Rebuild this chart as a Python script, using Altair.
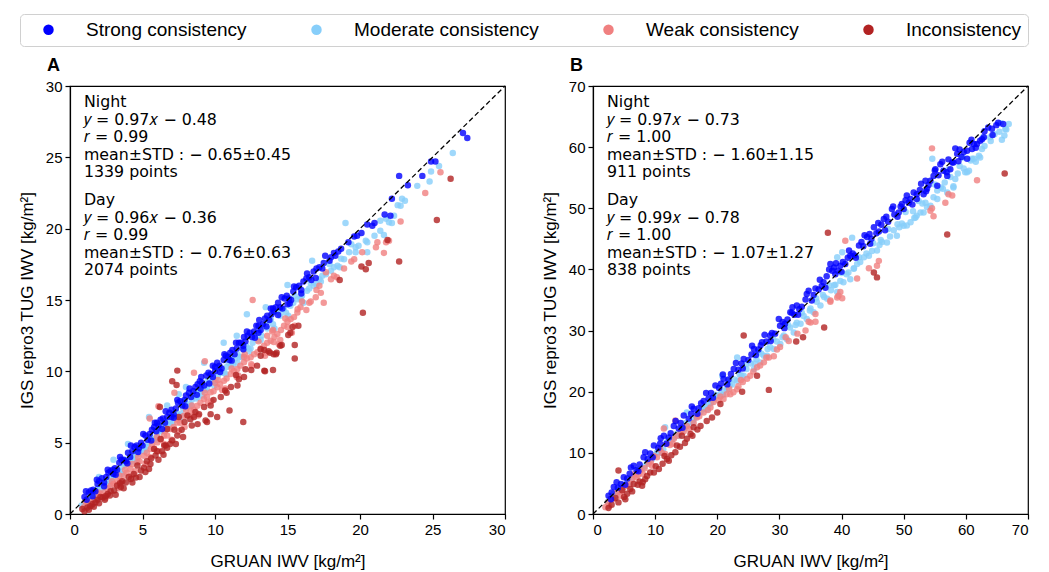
import altair as alt
import pandas as pd

# ---------------- data ----------------
A_strong = [(1.0,1.2),(1.3,1.5),(1.6,1.7),(1.9,2.1),(2.0,2.3),(2.2,2.5),(2.5,2.6),(2.8,3.0),(3.0,2.8),(3.1,3.2),(3.4,3.6),(3.7,3.8),(4.0,4.3),(4.3,4.4),(4.6,4.8),(4.9,5.0),(5.0,4.8),(5.2,5.5),(5.5,5.6),(5.8,6.1),(6.0,6.4),(6.1,6.2),(6.4,6.7),(6.7,6.8),(7.0,7.3),(7.0,6.8),(7.3,7.4),(7.6,7.9),(7.9,8.0),(8.0,8.3),(8.2,8.5),(8.5,8.6),(8.8,9.1),(9.0,8.8),(9.1,9.2),(9.4,9.7),(9.7,9.8),(10.0,10.3),(10.0,10.0),(10.3,10.4),(10.6,10.8),(10.9,11.0),(11.0,10.8),(11.2,11.5),(11.5,11.6),(11.8,12.0),(12.0,12.4),(12.1,12.1),(12.4,12.7),(12.7,12.8),(13.0,13.2),(13.0,12.7),(13.3,13.3),(13.6,13.9),(13.9,14.0),(14.0,14.4),(14.2,14.5),(14.5,14.5),(14.8,15.1),(15.0,14.7),(15.1,15.1),(15.4,15.6),(15.8,16.0),(16.1,16.3),(16.5,16.6),(16.8,17.0),(17.2,17.3),(17.6,18.1),(17.9,17.75),(18.2,18.3),(18.7,18.6),(19.2,19.05),(19.6,19.45),(19.8,19.5),(20.1,19.7),(20.5,20.3),(20.85,20.2),(21.0,20.4),(21.7,21.0),(22.1,20.9),(22.2,22.1),(22.7,23.7),(23.3,23.05),(24.3,23.7),(24.9,24.7),(25.2,24.7),(27.1,26.7),(27.4,26.35),
            (1.15,1.0),(1.45,1.65),(1.75,1.6),(2.35,2.2),(2.65,2.9),(2.95,3.1),(3.25,3.1),(3.55,3.8),(3.85,3.7),(4.15,4.0),(4.45,4.7),(4.75,4.6),(5.35,5.2),(5.65,5.9),(5.95,5.8),(6.25,6.6),(6.55,6.4),(6.85,7.1),(7.15,7.0),(7.45,7.8),(7.75,7.6),(8.35,8.2),(8.65,8.9),(8.95,9.3),(9.25,9.0),(9.55,9.9),(9.85,9.6),(10.15,10.6),(10.45,10.2),(10.75,11.1),(11.05,11.3),(11.35,11.2),(11.65,12.0),(11.95,11.8),(12.25,12.5),(12.55,12.4),(12.85,13.2),(13.15,12.9),(13.45,13.7),(13.75,13.6),(14.05,14.2),(14.35,14.8),(14.65,14.4),(14.95,15.3),(15.25,15.0),(15.6,15.9),(15.95,15.7),(16.3,16.5),(16.65,16.4),(17.0,17.2),(17.4,17.2),(18.0,18.0),(18.5,18.4),
            (1.1,1.6),(1.55,1.25),(1.85,2.4),(2.35,1.95),(2.6,3.1),(3.15,2.75),(3.45,4.0),(3.95,3.55),(4.2,4.8),(4.7,4.35),(5.05,5.6),(5.6,5.15),(5.85,6.4),(6.35,5.95),(6.6,7.2),(7.15,6.75),(7.4,8.0),(7.95,7.55),(8.25,8.8),(8.75,8.35),(9.05,9.6),(9.6,9.15),(9.85,10.4),(10.35,9.95),(10.65,11.2),(11.15,10.75),(11.45,12.0),(11.95,11.55),(12.2,12.8),(12.75,12.35),(13.05,13.6),(13.55,13.15),(13.85,14.4),(14.35,13.95),(14.6,15.2),(15.15,14.75),(15.45,15.95),(15.95,15.45),(16.35,16.85),(16.95,16.55),(17.5,17.6),(18.3,18.1)]
A_moderate = [(0.8,0.6),(1.2,0.9),(1.5,1.2),(1.8,1.6),(2.0,2.6),(2.1,1.7),(2.4,2.2),(2.7,2.3),(3.0,2.7),(3.0,3.8),(3.3,2.9),(3.6,3.3),(3.9,3.5),(4.0,4.9),(4.2,3.9),(4.5,4.0),(4.8,4.4),(5.1,4.6),(5.4,5.0),(5.45,6.8),(5.7,5.2),(6.0,5.6),(6.3,5.8),(6.6,6.2),(6.7,7.6),(6.9,6.4),(7.2,6.8),(7.5,6.9),(7.5,8.4),(7.8,7.4),(8.0,8.9),(8.1,7.5),(8.4,8.0),(8.7,8.1),(9.0,8.6),(9.25,10.6),(9.3,8.7),(9.6,9.1),(9.9,9.3),(10.2,9.7),(10.5,9.9),(10.6,12.0),(10.8,10.3),(11.1,10.4),(11.4,10.9),(11.5,12.5),(11.7,11.0),(12.0,11.5),(12.2,14.0),(12.3,11.6),(12.6,12.0),(12.9,12.2),(13.05,12.75),(13.4,13.2),(13.5,14.5),(13.85,13.65),(14.3,14.15),(14.75,14.35),(15.0,16.05),(15.2,14.6),(15.7,15.05),(16.0,15.3),(16.35,15.65),(16.7,17.75),(16.8,16.0),(17.2,16.45),(17.65,16.8),(18.0,17.05),(18.45,17.4),(18.9,17.85),(19.0,20.4),(19.25,18.35),(19.7,18.7),(19.7,18.35),(19.9,18.8),(20.4,19.15),(20.5,19.05),(20.5,18.35),(21.0,19.5),(21.4,19.85),(21.4,20.55),(21.65,19.55),(21.8,20.7),(22.0,20.45),(22.2,20.4),(22.35,20.9),(22.6,21.65),(22.8,21.6),(22.9,22.1),(23.1,21.95),(23.95,23.0),(24.8,23.3),(24.9,24.0),(25.45,24.4),(26.4,25.3),
              (1.0,0.8),(1.35,1.0),(1.65,1.3),(1.95,1.8),(2.25,1.8),(2.55,2.3),(2.85,2.5),(3.15,2.9),(3.45,3.0),(3.75,3.5),(4.05,3.5),(4.35,4.1),(4.65,4.2),(4.95,4.6),(5.25,4.7),(5.55,5.3),(5.85,5.3),(6.15,5.9),(6.45,5.9),(6.75,6.5),(7.05,6.4),(7.35,7.1),(7.65,7.0),(7.95,7.7),(8.25,7.7),(8.55,8.3),(8.85,8.2),(9.15,8.9),(9.45,8.8),(9.75,9.5),(10.05,9.4),(10.35,10.1),(10.65,9.9),(10.95,10.6),(11.25,10.5),(11.55,11.2),(11.85,11.0),(12.15,11.8),(12.45,11.6),(12.75,12.4),(13.2,12.5),(13.6,13.0),(14.0,13.3),(14.5,13.9),(14.9,14.1),(15.4,14.8),(15.9,15.1),(16.5,15.8),(17.0,16.1),(17.4,16.7),(18.2,17.3),(18.7,17.9),
              (1.1,0.5),(1.45,1.4),(1.9,1.3),(2.3,2.1),(2.75,1.9),(3.1,3.0),(3.55,2.8),(3.9,3.8),(4.4,3.7),(4.7,4.6),(5.15,4.4),(5.5,5.4),(5.95,5.2),(6.3,6.2),(6.75,6.0),(7.1,7.0),(7.55,6.7),(7.9,7.9),(8.35,7.6),(8.7,8.6),(9.1,8.3),(9.5,9.4),(9.95,9.0),(10.3,10.2),(10.75,9.8),(11.1,11.0),(11.55,10.6),(11.9,11.8),(12.35,11.4),(12.7,12.6),(13.15,12.2),(13.6,13.5),(14.1,13.0),(14.55,14.3),(15.05,13.9),(15.5,15.3),(16.1,14.8),(16.6,16.2),(17.3,16.3),(17.9,17.5),(18.6,17.3),(19.4,18.9)]
A_weak = [(0.97,0.47),(1.43,0.82),(1.88,1.17),(2.34,1.52),(2.5,1.3),(2.8,1.98),(3.26,2.33),(3.5,2.3),(3.72,2.68),(4.0,3.5),(4.18,3.15),(4.5,3.0),(4.64,3.62),(5.1,4.09),(5.5,4.0),(5.5,6.7),(5.56,4.55),(6.0,5.4),(6.02,5.02),(6.1,7.55),(6.48,5.49),(6.5,4.9),(6.94,5.96),(7.2,8.5),(7.4,6.42),(7.5,5.8),(7.86,6.89),(8.0,7.3),(8.32,7.24),(8.5,6.9),(8.55,9.9),(8.78,7.59),(9.24,8.06),(9.3,10.7),(9.5,7.8),(9.7,8.53),(10.0,9.2),(10.16,8.88),(10.5,8.7),(10.62,9.34),(11.08,9.81),(11.5,9.6),(11.54,10.16),(12.0,10.63),(12.0,11.0),(12.46,10.98),(12.5,10.5),(12.6,15.0),(12.92,11.33),(13.38,11.8),(13.5,11.3),(13.6,12.5),(13.84,12.15),(14.0,12.9),(14.05,12.05),(14.3,12.61),(14.5,12.2),(14.76,13.2),(15.0,13.1),(15.22,13.66),(15.5,13.2),(15.68,14.13),(15.7,14.35),(16.0,14.9),(16.3,14.3),(16.95,15.2),(17.0,15.7),(17.5,14.8),(17.65,16.95),(18.0,16.45),(18.2,16.7),(18.9,17.2),(19.4,17.7),(19.6,17.85),(20.15,18.35),(21.1,18.7),(21.2,19.05),(21.65,18.3),(21.8,19.05),(22.0,19.15),(22.8,20.5),(24.5,22.5),(25.55,23.95),
          (1.2,0.7),(1.65,1.0),(2.1,1.4),(2.6,1.8),(3.0,2.1),(3.4,2.7),(3.9,2.9),(4.3,3.5),(4.8,3.7),(5.3,4.3),(5.8,4.6),(6.25,5.2),(6.7,5.5),(7.15,6.1),(7.6,6.4),(8.1,6.9),(8.55,7.3),(9.0,7.8),(9.45,8.2),(9.9,8.6),(10.35,9.1),(10.8,9.5),(11.3,10.0),(11.75,10.4),(12.2,10.9),(12.7,11.2),(13.15,11.6),(13.6,12.0),(14.1,12.4),(14.55,12.9),(15.0,13.5),(15.45,13.8),(16.5,14.8),(17.3,15.5),
          (1.05,0.9),(1.5,0.6),(1.95,1.5),(2.45,1.1),(2.9,2.3),(3.35,1.8),(3.8,3.1),(4.25,2.7),(4.7,4.0),(5.2,3.5),(5.65,4.9),(6.1,4.4),(6.55,5.8),(7.0,5.2),(7.45,6.6),(7.9,6.1),(8.4,7.6),(8.85,6.9),(9.3,8.5),(9.75,7.9),(10.2,9.4),(10.7,8.8),(11.15,10.2),(11.6,9.7),(12.05,11.2),(12.55,10.4),(13.0,12.1),(13.45,11.1),(13.95,12.8),(14.4,11.9),(14.85,13.7),(15.3,12.7),(15.9,14.5),(16.6,14.9),(17.2,16.0),(18.4,16.6)]
A_incons = [(0.85,0.35),(1.2,0.45),(1.55,0.7),(1.9,1.0),(2.25,1.15),(2.6,1.4),(3.05,1.65),(3.25,2.0),(3.85,2.2),(4.2,2.45),(4.4,2.8),(4.65,3.4),(4.9,3.05),(5.1,3.25),(5.45,3.15),(5.8,4.55),(5.9,4.1),(6.2,7.5),(6.25,5.25),(6.5,4.8),(6.6,4.8),(6.7,4.65),(6.7,5.95),(7.05,5.15),(7.05,9.3),(7.3,4.9),(7.35,9.05),(7.4,5.5),(7.4,10.05),(7.5,6.8),(7.9,6.45),(8.1,6.9),(8.3,6.65),(8.55,6.8),(8.65,7.15),(8.8,6.3),(9.25,7.5),(9.35,6.55),(9.45,6.45),(9.7,7.0),(9.7,7.6),(10.15,6.8),(10.4,8.2),(10.7,8.65),(10.8,8.5),(11.0,7.25),(11.1,8.9),(11.45,9.75),(11.55,9.0),(11.65,9.45),(11.95,6.45),(12.0,9.6),(12.1,10.15),(12.9,10.4),(13.15,11.1),(13.15,11.55),(13.4,10.05),(13.4,11.5),(13.45,10.0),(13.8,11.3),(14.0,10.1),(14.05,11.2),(14.2,11.2),(14.25,11.3),(14.5,11.8),(14.6,11.85),(15.05,12.55),(15.2,12.7),(15.35,13.1),(15.5,10.9),(15.5,11.85),(15.75,13.2),(18.6,16.4),(20.1,17.35),(20.2,14.1),(20.4,17.15),(20.6,17.6),(21.9,19.2),(22.7,17.7),(25.3,20.6),(26.25,23.5),
            (1.0,0.2),(1.4,0.55),(1.75,0.8),(2.1,1.2),(2.45,1.25),(2.8,1.6),(3.5,1.9),(3.6,2.3),(4.05,2.6),(5.3,3.7),(5.6,3.9),(6.0,4.4),(6.35,4.4),(6.9,4.9),(7.7,5.9),(8.9,7.0),(9.9,8.0),(12.5,10.1),(13.7,11.4),
            (1.3,0.3),(1.65,0.5),(2.0,0.75),(2.4,1.0),(2.75,1.3),(3.15,1.35),(3.45,2.15),(3.7,1.8),(4.3,2.2),(4.55,2.55),(4.8,2.6),(5.2,2.95),(5.55,3.5),(6.1,3.8),(6.45,4.15),(7.2,5.9),(7.8,5.4),(8.4,6.2)]

B_strong = [(2.5,3.0),(3.35,4.4),(4.0,4.3),(4.95,6.0),(5.5,5.8),(6.55,7.9),(7.0,7.2),(8.15,9.3),(8.8,9.0),(9.8,11.2),(10.5,10.8),(11.4,12.8),(12.2,12.5),(13.0,14.4),(13.8,14.0),(14.6,16.1),(15.4,15.6),(16.2,17.2),(17.0,17.3),(17.8,18.5),(18.6,18.9),(19.7,21.0),(20.3,20.6),(21.0,22.1),(21.8,22.0),(22.65,23.7),(23.4,23.6),(24.25,25.35),(25.0,25.2),(25.9,27.0),(26.6,26.9),(27.2,28.1),(27.9,28.2),(28.5,29.2),(29.3,29.5),(30.1,30.8),(30.9,31.1),(31.75,33.0),(32.4,32.6),(32.8,34.1),(33.6,33.9),(34.7,36.5),(35.5,35.8),(36.3,36.7),(37.1,37.9),(38.2,40.9),(38.5,39.8),(39.0,39.2),(39.8,40.6),(40.6,40.9),(41.4,42.25),(42.1,42.3),(42.8,43.9),(43.5,43.8),(44.1,45.3),(44.8,45.0),(45.2,46.9),(46.0,46.2),(46.8,48.25),(47.5,47.8),(48.1,49.9),(49.2,49.3),(49.7,50.7),(50.0,49.9),(50.5,52.1),(51.1,51.5),(52.1,52.3),(52.1,51.5),(53.2,52.3),(53.5,54.5),(53.75,53.2),(54.3,54.5),(54.8,55.3),(55.1,56.4),(55.4,53.7),(55.9,57.2),(56.4,56.15),(57.0,55.3),(57.5,56.4),(57.8,57.5),(58.0,57.5),(58.6,58.9),(59.65,59.2),(60.2,58.1),(60.2,59.4),(61.0,59.7),(61.3,60.5),(61.8,60.5),(62.3,61.05),(62.6,61.3),(62.9,61.6),(64.2,63.0),(64.3,62.0),(66.0,63.8),
            (3.0,3.5),(4.5,4.9),(5.9,6.6),(7.5,8.1),(9.2,9.9),(10.8,11.5),(12.5,13.2),(14.1,14.9),(15.8,16.4),(17.4,18.1),(19.0,19.8),(20.6,21.3),(22.2,22.9),(23.9,24.6),(25.5,26.1),(27.0,27.6),(28.8,29.6),(30.5,31.4),(31.3,31.8),(32.0,32.9),(33.2,33.5),(34.2,35.1),(35.8,36.9),(36.8,37.3),(37.6,38.9),(38.0,40.0),(38.8,40.3),(39.4,39.8),(40.2,41.2),(41.0,41.9),(41.8,42.6),(43.2,44.5),(44.5,45.8),(45.6,45.9),(46.4,47.3),(47.2,48.6),(48.5,49.0),(49.5,50.3),(50.8,50.9),(51.6,52.6),(52.6,53.0),(54.0,53.8),(55.6,55.4),(56.2,57.6),(57.2,58.0),(59.0,59.6),(59.3,58.4),(60.6,60.7),(63.0,62.6),(64.9,63.6),
            (2.9,2.4),(3.8,5.2),(5.2,4.8),(6.1,7.6),(7.3,7.0),(8.4,10.1),(9.6,9.3),(10.9,12.4),(11.8,11.5),(13.3,15.2),(14.4,14.1),(15.9,17.6),(16.8,16.4),(18.2,19.8),(19.3,19.0),(20.9,22.8),(21.6,21.2),(23.0,24.7),(24.1,23.8),(25.6,27.5),(26.2,26.0),(27.6,29.3),(28.6,28.3),(29.9,31.9),(30.8,30.4),(32.1,33.8),(33.0,32.6),(34.4,36.0),(35.2,34.9),(36.5,38.3),(37.4,37.0),(39.1,41.0),(40.0,39.6),(41.2,43.1),(42.3,41.9),(43.7,45.6),(44.6,44.2),(45.9,47.6),(47.0,46.4),(48.3,50.3),(49.0,48.6),(50.3,51.3),(51.4,50.6),(52.8,54.0),(53.6,52.8),(55.0,56.2),(56.9,55.9),(58.3,59.8),(58.8,57.7),(60.9,61.2),(61.6,59.9),(63.6,63.2),(65.2,64.0)]
B_moderate = [(3.3,3.3),(4.4,4.1),(5.5,5.2),(6.2,5.9),(7.1,6.8),(8.7,8.45),(9.5,9.0),(10.3,10.1),(11.6,14.2),(11.9,11.7),(12.7,12.2),(13.5,13.1),(14.3,13.6),(15.1,14.4),(15.1,16.6),(16.2,15.5),(17.8,17.2),(18.6,17.9),(19.4,18.8),(20.5,19.6),(20.8,22.6),(21.6,20.4),(22.4,21.2),(23.2,21.8),(23.2,25.6),(24.25,22.6),(25.9,23.7),(26.9,24.8),(27.5,25.9),(28.0,25.9),(29.1,27.0),(30.15,27.8),(30.7,29.2),(31.2,28.6),(32.3,29.7),(33.4,31.1),(33.9,32.4),(34.4,31.9),(35.5,33.0),(36.6,34.1),(37.2,35.5),(37.7,35.2),(38.8,37.4),(39.3,36.3),(39.3,42.0),(40.1,42.8),(40.3,37.9),(41.4,38.4),(41.7,45.2),(41.95,40.1),(42.5,40.9),(43.0,41.2),(44.4,42.25),(45.7,43.1),(46.5,44.5),(47.3,44.4),(48.9,45.5),(49.7,47.5),(50.0,47.15),(50.5,47.2),(51.1,47.7),(51.9,48.5),(52.1,48.8),(52.7,49.3),(53.2,49.3),(53.75,50.2),(54.3,50.4),(54.6,58.1),(54.8,51.8),(55.4,51.5),(55.4,52.9),(57.0,52.6),(58.0,53.4),(58.0,53.6),(58.3,54.8),(59.65,56.5),(59.9,55.9),(60.2,55.9),(60.5,56.15),(61.0,58.1),(61.3,58.1),(62.1,58.6),(62.3,58.3),(62.6,59.7),(63.9,61.6),(65.8,61.2),(66.35,62.97),(66.5,62.9),(66.9,63.8),
              (2.8,2.5),(3.9,3.5),(5.0,4.5),(6.7,6.2),(7.9,7.4),(9.0,8.5),(10.8,10.3),(11.3,10.6),(12.3,11.7),(13.1,12.6),(14.7,14.0),(15.6,15.0),(16.6,16.0),(17.3,16.7),(18.1,17.6),(19.0,18.2),(19.9,19.4),(21.1,20.2),(22.0,21.0),(22.8,22.0),(23.6,22.8),(24.7,23.7),(25.4,24.6),(26.3,25.3),(27.1,26.2),(28.5,27.3),(29.6,28.2),(31.7,30.5),(32.8,31.3),(34.9,33.3),(36.0,34.7),(38.3,36.6),(39.8,38.1),(40.8,39.2),(42.0,40.2),(43.6,42.0),(44.9,43.0),(46.1,44.0),(47.8,45.4),(48.4,46.4),(49.3,46.9),(51.5,49.5),(53.0,50.8),(56.0,53.4),(56.6,54.2),(57.5,55.1),(59.0,56.9),(60.8,57.8),(63.0,60.2),(64.6,62.1),(65.4,62.5),
              (2.4,2.0),(3.6,2.9),(4.7,4.7),(5.8,5.0),(7.4,7.3),(8.3,7.8),(9.9,9.6),(11.0,10.0),(12.0,12.0),(13.8,12.8),(14.9,14.9),(16.0,15.0),(17.5,17.4),(18.3,17.1),(19.6,19.5),(20.9,19.5),(21.9,21.9),(23.9,22.6),(24.6,24.5),(26.0,24.6),(26.7,26.5),(28.1,27.0),(29.0,28.6),(30.5,28.9),(31.4,30.9),(32.6,30.9),(33.6,32.9),(35.0,33.6),(35.9,35.3),(37.0,35.8),(38.0,37.4),(39.0,37.5),(40.0,39.4),(41.1,39.5),(42.8,42.0),(44.0,42.6),(45.1,44.3),(46.3,44.8),(47.5,46.6),(49.0,47.4),(50.3,49.4),(51.7,48.4),(52.4,51.2),(53.5,50.9),(55.0,53.9),(56.3,53.2),(57.2,56.3),(58.7,55.7),(59.5,58.3),(61.6,57.6),(62.8,61.6),(64.0,61.0),(65.6,63.9),(66.2,61.9)]
B_weak = [(2.0,1.1),(2.8,2.45),(3.86,3.5),(4.9,4.35),(6.3,5.7),(7.6,7.1),(8.95,8.2),(9.8,9.5),(10.8,10.6),(11.4,14.0),(11.9,11.45),(13.0,12.3),(13.25,15.3),(14.1,13.4),(15.1,14.4),(16.7,15.8),(17.8,16.6),(19.4,18.3),(21.0,18.8),(22.1,19.6),(22.6,19.9),(23.2,20.4),(23.4,20.9),(24.8,22.1),(25.3,22.6),(26.4,24.0),(26.9,24.3),(27.5,24.8),(28.3,25.6),(29.1,25.8),(30.1,27.3),(34.2,30.0),(34.7,31.45),(35.0,31.3),(35.8,31.45),(35.8,32.7),(38.2,34.7),(38.2,34.9),(39.3,35.4),(39.5,35.7),(39.8,36.3),(40.1,35.3),(40.6,44.7),(42.5,38.5),(44.4,40.2),(45.7,40.6),(46.0,41.4),(54.3,49.6),(54.55,50.0),(54.55,59.8),(54.8,48.7),(56.7,50.9),(57.2,52.3),(57.8,52.1),(61.8,54.6),
          (3.3,2.4),(5.5,4.6),(7.0,6.0),(8.3,7.5),(10.3,9.3),(12.4,11.3),(14.6,13.5),(16.2,14.9),(18.5,17.0),(20.2,18.6),(21.5,19.6),(24.1,21.6),(29.6,26.9),(31.5,28.3),(32.9,29.5),
          (2.4,1.9),(2.6,1.3),(4.3,3.0),(4.6,3.7),(5.9,4.9),(6.6,6.5),(7.3,6.4),(8.0,6.6),(9.3,8.6),(9.5,7.9),(11.1,10.0),(11.6,9.8),(12.8,11.5),(13.6,12.8),(15.5,13.9),(17.1,16.0),(18.9,17.4),(20.5,19.2),(21.9,20.5),(23.8,21.9),(25.8,23.3),(27.9,25.6),(31.0,28.9)]
B_incons = [(4.1,1.9),(4.1,7.1),(5.5,3.3),(6.0,4.1),(6.55,4.9),(7.9,4.6),(8.4,5.7),(8.7,6.2),(9.8,6.8),(10.6,7.35),(11.9,9.0),(13.25,10.1),(13.5,11.2),(14.3,12.8),(15.1,12.3),(15.7,13.1),(16.2,14.2),(17.3,14.4),(19.15,15.8),(20.0,16.6),(20.5,18.0),(24.0,20.0),(24.25,29.2),(26.4,22.6),(28.3,20.3),(32.7,28.2),(33.8,28.9),(37.2,30.5),(37.8,46.0),(45.2,39.5),(45.7,38.7),(57.0,45.7),(66.25,55.7),
            (3.0,1.5),(5.0,2.8),(7.2,4.8),(9.2,6.8),(11.2,8.2),(12.6,9.6),(14.8,11.6),(16.8,13.8),(18.3,15.2),
            (2.5,1.0),(3.6,2.6),(4.7,3.9),(5.2,2.4),(6.3,3.7),(7.5,5.3),(8.0,5.2),(10.1,7.8),(11.5,9.5),(12.2,8.7),(14.0,11.0),(16.0,12.8)]

CATEGORIES = ["Strong consistency", "Moderate consistency", "Weak consistency", "Inconsistency"]
COLORS = ["#0000ff", "#87cefa", "#f08080", "#b22222"]
DRAW_ORDER = {"Moderate consistency": 0, "Weak consistency": 1, "Inconsistency": 2, "Strong consistency": 3}

A_MAX, A_STEP = 30, 5
B_MAX, B_STEP = 70, 10
A_NIGHT = ["Night", "𝑦 = 0.97𝑥 − 0.48", "𝑟 = 0.99", "mean±STD : − 0.65±0.45", "1339 points"]
A_DAY = ["Day", "𝑦 = 0.96𝑥 − 0.36", "𝑟 = 0.99", "mean±STD : − 0.76±0.63", "2074 points"]
B_NIGHT = ["Night", "𝑦 = 0.97𝑥 − 0.73", "𝑟 = 1.00", "mean±STD : − 1.60±1.15", "911 points"]
B_DAY = ["Day", "𝑦 = 0.99𝑥 − 0.78", "𝑟 = 1.00", "mean±STD : − 1.07±1.27", "838 points"]

SANS = "Liberation Sans"


def frame(groups):
    rows = []
    for cat, pts in groups:
        for x, y in pts:
            rows.append({"cat": cat, "x": x, "y": y, "o": DRAW_ORDER[cat]})
    return pd.DataFrame(rows).sort_values("o", kind="stable").reset_index(drop=True)


def panel(df, vmax, step, label, night, day):
    xenc = alt.X("x:Q", scale=alt.Scale(domain=[0, vmax], nice=False, zero=False),
                 axis=alt.Axis(values=list(range(0, vmax + 1, step)), title="GRUAN IWV [kg/m²]",
                               titlePadding=16))
    yenc = alt.Y("y:Q", scale=alt.Scale(domain=[0, vmax], nice=False, zero=False),
                 axis=alt.Axis(values=list(range(0, vmax + 1, step)), title="IGS repro3 TUG IWV [kg/m²]",
                               titlePadding=9))
    pts = alt.Chart(df).mark_circle(size=42, opacity=0.8).encode(
        x=xenc, y=yenc,
        color=alt.Color("cat:N", scale=alt.Scale(domain=CATEGORIES, range=COLORS),
                        legend=alt.Legend(title=None, orient="none", legendX=-50, legendY=-72,
                                          offset=0, direction="horizontal", symbolType="circle",
                                          symbolSize=110, symbolOpacity=1, labelFontSize=19,
                                          labelFont=SANS, labelColor="black", labelLimit=400,
                                          columnPadding=47, symbolOffset=13, labelOffset=28,
                                          padding=6, strokeColor="#d0d0d0",
                                          cornerRadius=4, fillColor="white")),
        order=alt.Order("o:Q"),
    )
    line_df = pd.DataFrame({"x": [0, vmax], "y": [0, vmax]})
    diag = alt.Chart(line_df).mark_line(color="black", strokeDash=[5, 3], strokeWidth=1.3).encode(
        x="x:Q", y="y:Q")
    txt_df = pd.DataFrame({
        "x": [0.032 * vmax, 0.032 * vmax],
        "y": [0.979 * vmax, 0.750 * vmax],
        "t": ["\n".join(night), "\n".join(day)],
    })
    txt = alt.Chart(txt_df).mark_text(align="left", baseline="top", lineBreak="\n", lineHeight=17.6,
                                      font="DejaVu Sans", fontSize=15.8, color="black").encode(
        x="x:Q", y="y:Q", text="t:N")
    return alt.layer(pts, diag, txt).properties(
        width=435, height=428,
        title=alt.TitleParams(label, anchor="start", frame="group", fontSize=18, fontWeight="bold",
                              font=SANS, dx=-23, offset=4, color="black"),
    )


dfA = frame([("Strong consistency", A_strong), ("Moderate consistency", A_moderate),
             ("Weak consistency", A_weak), ("Inconsistency", A_incons)])
dfB = frame([("Strong consistency", B_strong), ("Moderate consistency", B_moderate),
             ("Weak consistency", B_weak), ("Inconsistency", B_incons)])

chart = alt.hconcat(
    panel(dfA, A_MAX, A_STEP, "A", A_NIGHT, A_DAY),
    panel(dfB, B_MAX, B_STEP, "B", B_NIGHT, B_DAY),
    spacing=31,
).properties(
    padding={"left": 17, "top": 13, "right": 2, "bottom": 0},
).configure_view(
    stroke="black", strokeWidth=1.2,
).configure_axis(
    grid=False, domainColor="black", tickColor="black", labelColor="black", titleColor="black",
    labelFont=SANS, titleFont=SANS, labelFontSize=15, titleFontSize=17, titleFontWeight="normal",
    tickSize=5, labelPadding=3, domainWidth=1.2, tickWidth=1.2,
)

chart.save("out.html", embed_options={"renderer": "svg", "actions": False})
